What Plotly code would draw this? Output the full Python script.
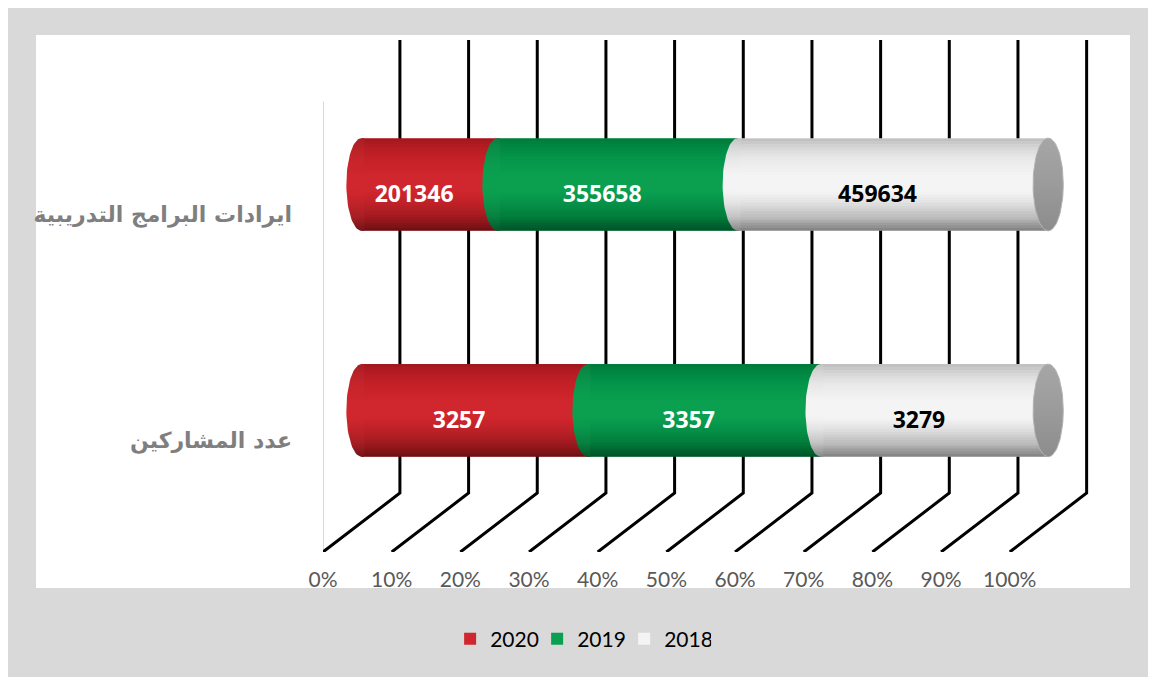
import numpy as np
import plotly.graph_objects as go

# categories listed bottom -> top
CATEGORIES = ["عدد المشاركين", "ايرادات البرامج التدريبية"]
YEARS = ["2020", "2019", "2018"]
VALUES_2020 = [3257, 201346]
VALUES_2019 = [3357, 355658]
VALUES_2018 = [3279, 459634]
X_TICKS = [0, 10, 20, 30, 40, 50, 60, 70, 80, 90, 100]
X_TICK_LABELS = [f"{t}%" for t in X_TICKS]

SERIES = [
    ("2020", VALUES_2020, (208, 38, 45), "white"),
    ("2019", VALUES_2019, (10, 160, 80), "white"),
    ("2018", VALUES_2018, (244, 244, 244), "black"),
]

# fake 3d settings
DX = 11.2        # depth shift along x (percent units)
DY = 0.261       # depth shift along y (category units)
BAR_D = 0.5      # depth of the cylinders
TEXT_D = 0.3     # depth of the value labels
BAR_W = 0.41
CAP_A = 2.2      # half width of the end ellipses (percent units)
X_RANGE = [0, 113]
Y_RANGE = [-0.496, 1.770]

# darkening profile bottom(0) -> top(1) for the cylinder look
SHADE_T = [0, 0.06, 0.15, 0.3, 0.42, 0.6, 0.78, 0.9, 1.0]
SHADE_A = [0.45, 0.35, 0.2, 0.07, 0.0, 0.0, 0.05, 0.12, 0.2]


def dark(t):
    return float(np.interp(t, SHADE_T, SHADE_A))


def shade(rgb, t):
    a = dark(t)
    r, g, b = [int(round(c * (1 - a))) for c in rgb]
    return f"rgb({r},{g},{b})"


totals = [sum(v) for v in zip(*[s[1] for s in SERIES])]
shares = [[v / t * 100 for v, t in zip(s[1], totals)] for s in SERIES]
starts = []
acc = [0.0] * len(CATEGORIES)
for sh in shares:
    starts.append(list(acc))
    acc = [a + s for a, s in zip(acc, sh)]

ypos = list(range(len(CATEGORIES)))
ybar = [y + DY * BAR_D for y in ypos]

fig = go.Figure()

# cylinders body
for (name, vals, rgb, _), sh, st in zip(SERIES, shares, starts):
    fig.add_trace(go.Bar(
        y=ybar, x=sh, base=[s + DX * BAR_D for s in st],
        orientation="h", width=BAR_W, name=name,
        marker=dict(color="rgb(%d,%d,%d)" % rgb, line=dict(width=0)),
        customdata=vals, hovertemplate="%{customdata}<extra>" + name + "</extra>",
    ))


# nested shading layers (no seams): from the bottom up and from the top down
def add_shade_layers(edges, from_bottom):
    # edges: increasing distances from the starting edge, as fraction of bar height
    f = [1 - dark(((edges[k - 1] if k else 0) + edges[k]) / 2 if from_bottom
                  else 1 - ((edges[k - 1] if k else 0) + edges[k]) / 2)
         for k in range(len(edges))]
    f.append(1.0)
    for k, h in enumerate(edges):
        a = 1 - f[k] / f[k + 1]
        if a <= 0:
            continue
        off = -BAR_W / 2 if from_bottom else BAR_W / 2 - h * BAR_W
        fig.add_trace(go.Bar(
            y=ybar, x=[100] * len(ypos), base=[DX * BAR_D] * len(ypos),
            orientation="h", width=h * BAR_W, offset=off,
            marker=dict(color=f"rgba(0,0,0,{a:.4f})", line=dict(width=0)),
            hoverinfo="skip", showlegend=False,
        ))


add_shade_layers(list(np.linspace(0.03, 0.42, 14)), True)
add_shade_layers(list(np.linspace(0.03, 0.40, 12)), False)

# rounded left edges of each segment
theta = np.linspace(np.pi / 2, 3 * np.pi / 2, 40)
stops = np.linspace(0, 1, 21)
for (name, vals, rgb, _), st in zip(SERIES, starts):
    cscale = [[float(t), shade(rgb, t)] for t in stops]
    for i, yc in enumerate(ybar):
        xc = st[i] + DX * BAR_D
        xs = list(xc + CAP_A * np.cos(theta)) + [xc + 0.4, xc + 0.4]
        ys = list(yc + BAR_W / 2 * np.sin(theta)) + [yc - BAR_W / 2, yc + BAR_W / 2]
        fig.add_trace(go.Scatter(
            x=xs, y=ys, mode="lines", fill="toself", line=dict(width=0),
            fillgradient=dict(type="vertical", colorscale=cscale),
            hoverinfo="skip", showlegend=False,
        ))

# right end caps
theta_full = np.linspace(0, 2 * np.pi, 80)
for yc in ybar:
    xc = 100 + DX * BAR_D
    fig.add_trace(go.Scatter(
        x=xc + CAP_A * np.cos(theta_full), y=yc + BAR_W / 2 * np.sin(theta_full),
        mode="lines", fill="toself", line=dict(width=1, color="#b3b3b3"),
        fillgradient=dict(type="vertical",
                          colorscale=[[0, "#8c8c8c"], [0.5, "#9b9b9b"], [1, "#a6a6a6"]]),
        hoverinfo="skip", showlegend=False,
    ))

# value labels
for (name, vals, rgb, tcol), sh, st in zip(SERIES, shares, starts):
    fig.add_trace(go.Scatter(
        x=[s + w / 2 + DX * TEXT_D for s, w in zip(st, sh)],
        y=[y + DY * TEXT_D for y in ypos],
        text=[str(v) for v in vals], mode="text",
        textfont=dict(family="Open Sans", size=23, color=tcol, weight="bold"),
        hoverinfo="skip", showlegend=False,
    ))

# 3d style gridlines: front floor edge -> back wall
shapes = [
    dict(type="rect", xref="paper", yref="paper", x0=-0.3698, x1=1.04,
         y0=-0.0703, y1=1.0098, fillcolor="white", line=dict(width=0), layer="below"),
    dict(type="line", xref="x", yref="paper", x0=0, x1=0, y0=0, y1=0.88,
         line=dict(color="#d9d9d9", width=2), layer="below"),
]
y_floor = Y_RANGE[0]
y_corner = Y_RANGE[0] + DY
for v in X_TICKS:
    shapes.append(dict(
        type="path", xref="x", yref="y", layer="below",
        path=f"M {v},{y_floor} L {v + DX},{y_corner} L {v + DX},{Y_RANGE[1]}",
        line=dict(color="black", width=3),
    ))

fig.update_layout(
    width=1156, height=677,
    margin=dict(l=315, r=65, t=32, b=133),
    paper_bgcolor="#d9d9d9", plot_bgcolor="rgba(0,0,0,0)",
    barmode="overlay",
    shapes=shapes,
    xaxis=dict(range=X_RANGE, tickvals=X_TICKS, ticktext=X_TICK_LABELS,
               showgrid=False, zeroline=False, showline=False, ticks="",
               ticklabelstandoff=13,
               tickfont=dict(family="Lato", size=21, color="#595959")),
    yaxis=dict(range=Y_RANGE, tickvals=ypos, ticktext=CATEGORIES,
               showgrid=False, zeroline=False, showline=False, ticks="",
               ticklabelstandoff=30,
               tickfont=dict(family="DejaVu Sans", size=22, color="#7f7f7f", weight="bold")),
    legend=dict(orientation="h", x=0.332, xanchor="center", y=-0.17, yanchor="middle",
                font=dict(family="Lato", size=21, color="black"),
                bgcolor="rgba(0,0,0,0)", itemwidth=30,
                entrywidth=42, entrywidthmode="pixels"),
    showlegend=True,
)

fig.write_html("out.html")
